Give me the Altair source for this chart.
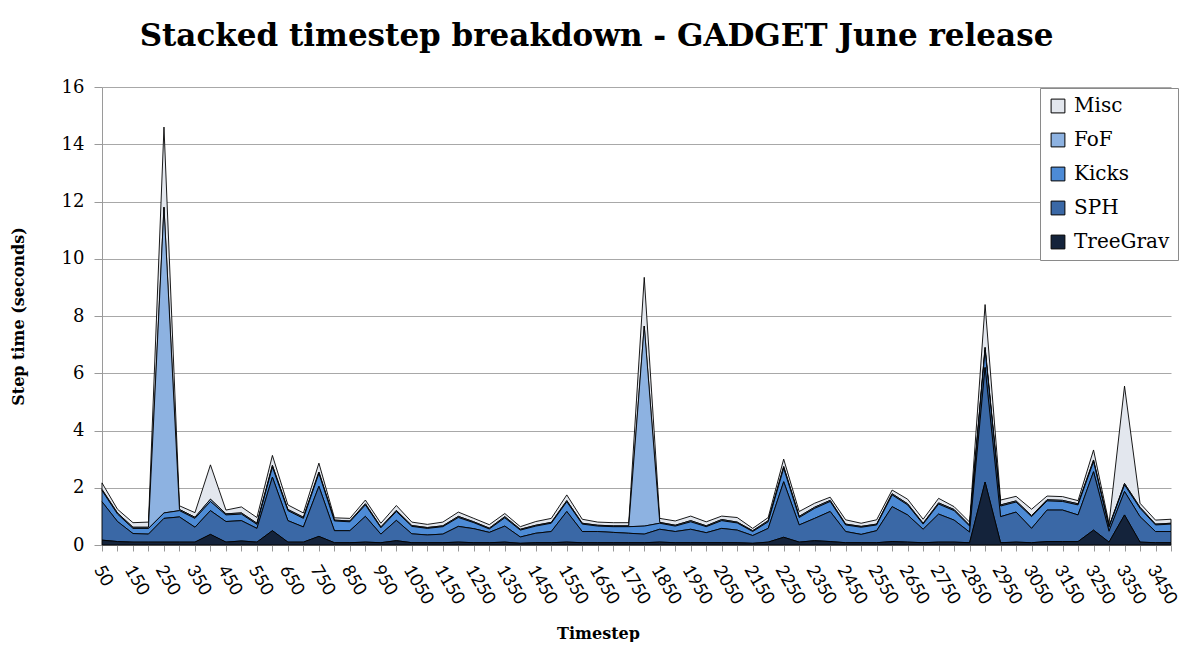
import altair as alt
import pandas as pd

timesteps = [50, 100, 150, 200, 250, 300, 350, 400, 450, 500,
             550, 600, 650, 700, 750, 800, 850, 900, 950, 1000,
             1050, 1100, 1150, 1200, 1250, 1300, 1350, 1400, 1450, 1500,
             1550, 1600, 1650, 1700, 1750, 1800, 1850, 1900, 1950, 2000,
             2050, 2100, 2150, 2200, 2250, 2300, 2350, 2400, 2450, 2500,
             2550, 2600, 2650, 2700, 2750, 2800, 2850, 2900, 2950, 3000,
             3050, 3100, 3150, 3200, 3250, 3300, 3350, 3400, 3450, 3500]

# cumulative tops of each stacked layer
misc_top = [2.17, 1.25, 0.78, 0.80, 14.6, 1.37, 1.13, 2.80, 1.22, 1.33,
            0.96, 3.13, 1.40, 1.12, 2.86, 0.95, 0.93, 1.57, 0.76, 1.38,
            0.80, 0.72, 0.80, 1.15, 0.93, 0.71, 1.10, 0.64, 0.82, 0.93,
            1.75, 0.90, 0.80, 0.78, 0.78, 9.35, 0.93, 0.84, 1.01, 0.81,
            1.01, 0.96, 0.58, 0.96, 3.00, 1.17, 1.46, 1.67, 0.88, 0.76,
            0.88, 1.92, 1.60, 0.90, 1.63, 1.34, 0.80, 8.40, 1.57, 1.70,
            1.25, 1.71, 1.69, 1.55, 3.32, 0.75, 5.55, 1.46, 0.87, 0.90]
fof_top = [1.94, 1.12, 0.62, 0.62, 11.8, 1.24, 0.97, 1.60, 1.09, 1.12,
           0.76, 2.78, 1.24, 0.97, 2.55, 0.87, 0.84, 1.44, 0.63, 1.21,
           0.68, 0.61, 0.67, 1.00, 0.81, 0.59, 0.99, 0.55, 0.69, 0.79,
           1.55, 0.76, 0.69, 0.67, 0.67, 7.65, 0.79, 0.69, 0.85, 0.67,
           0.89, 0.80, 0.50, 0.85, 2.74, 1.00, 1.32, 1.56, 0.73, 0.65,
           0.73, 1.79, 1.44, 0.76, 1.47, 1.24, 0.69, 6.90, 1.40, 1.54,
           1.03, 1.58, 1.56, 1.44, 2.97, 0.65, 2.15, 1.32, 0.73, 0.76]
kicks_top = [1.90, 1.08, 0.58, 0.58, 1.12, 1.20, 0.93, 1.52, 1.05, 1.08,
             0.72, 2.72, 1.20, 0.93, 2.50, 0.84, 0.81, 1.40, 0.60, 1.17,
             0.65, 0.58, 0.64, 0.96, 0.78, 0.56, 0.95, 0.52, 0.66, 0.76,
             1.51, 0.73, 0.66, 0.64, 0.64, 0.66, 0.76, 0.66, 0.81, 0.64,
             0.85, 0.77, 0.47, 0.81, 2.68, 0.96, 1.28, 1.52, 0.70, 0.62,
             0.70, 1.75, 1.40, 0.73, 1.43, 1.20, 0.66, 6.80, 1.36, 1.50,
             0.99, 1.54, 1.52, 1.40, 2.91, 0.62, 2.10, 1.28, 0.70, 0.73]
sph_top = [1.51, 0.82, 0.40, 0.38, 0.93, 0.98, 0.62, 1.20, 0.82, 0.85,
           0.58, 2.37, 0.85, 0.63, 2.05, 0.50, 0.50, 1.00, 0.38, 0.86,
           0.39, 0.35, 0.38, 0.65, 0.57, 0.44, 0.66, 0.28, 0.41, 0.47,
           1.17, 0.47, 0.47, 0.44, 0.41, 0.38, 0.55, 0.47, 0.55, 0.43,
           0.58, 0.52, 0.33, 0.58, 2.21, 0.70, 0.93, 1.17, 0.47, 0.37,
           0.50, 1.34, 1.05, 0.55, 1.08, 0.87, 0.45, 6.20, 0.99, 1.15,
           0.58, 1.22, 1.22, 1.05, 2.56, 0.48, 1.87, 0.99, 0.47, 0.47]
treegrav_top = [0.17, 0.12, 0.10, 0.10, 0.10, 0.10, 0.10, 0.37, 0.10, 0.14,
                0.10, 0.50, 0.10, 0.10, 0.30, 0.08, 0.08, 0.10, 0.08, 0.15,
                0.08, 0.08, 0.08, 0.10, 0.08, 0.08, 0.10, 0.06, 0.08, 0.08,
                0.10, 0.08, 0.08, 0.08, 0.08, 0.08, 0.10, 0.08, 0.08, 0.08,
                0.08, 0.08, 0.06, 0.10, 0.27, 0.10, 0.15, 0.12, 0.08, 0.08,
                0.08, 0.12, 0.10, 0.08, 0.10, 0.10, 0.08, 2.20, 0.08, 0.10,
                0.08, 0.12, 0.12, 0.12, 0.52, 0.10, 1.05, 0.10, 0.08, 0.08]

layers = ["Misc", "FoF", "Kicks", "SPH", "TreeGrav"]
colors = ["#e3e7ee", "#8db2e1", "#4d8bd6", "#3a68a6", "#14233b"]
y_ticks = [0, 2, 4, 6, 8, 10, 12, 14, 16]

bounds = {
    "Misc": (fof_top, misc_top),
    "FoF": (kicks_top, fof_top),
    "Kicks": (sph_top, kicks_top),
    "SPH": (treegrav_top, sph_top),
    "TreeGrav": (None, treegrav_top),
}
rows = []
for name in layers:
    lo, hi = bounds[name]
    for i, t in enumerate(timesteps):
        rows.append({"Timestep": t, "Layer": name,
                     "lo": 0.0 if lo is None else lo[i], "hi": hi[i]})
df = pd.DataFrame(rows)

serif = "DejaVu Serif"

chart = alt.Chart(df).mark_area(
    stroke="black", strokeWidth=0.9, opacity=1, fillOpacity=1
).encode(
    x=alt.X("Timestep:Q",
            scale=alt.Scale(domain=[50, 3500], nice=False, zero=False),
            axis=alt.Axis(values=timesteps, format="d",
                          labelExpr="(datum.value - 50) % 100 == 0 ? datum.label : ''",
                          labelAngle=60, labelAlign="left", labelBaseline="top",
                          labelOverlap=False, labelFlush=False,
                          labelFont="Lato", labelFontSize=18, labelColor="black",
                          labelPadding=11, labelOffset=3,
                          tickSize=6, tickColor="#9a9a9a", domainColor="#9a9a9a",
                          grid=False,
                          title="Timestep", titleFont=serif, titleFontSize=16,
                          titleFontWeight="bold", titleColor="black",
                          titleX=496, titleY=93, titleBaseline="alphabetic")),
    y=alt.Y("hi:Q", scale=alt.Scale(domain=[0, 16], nice=False),
            axis=alt.Axis(values=y_ticks, labelFont=serif, labelFontSize=18,
                          labelColor="black", labelPadding=10,
                          tickSize=8, tickColor="#9a9a9a", domainColor="#9a9a9a",
                          gridColor="#a8a8a8", gridWidth=1,
                          title="Step time (seconds)", titleFont=serif,
                          titleFontSize=16, titleFontWeight="bold",
                          titleColor="black", titleX=-76, titleY=229)),
    y2="lo:Q",
    color=alt.Color("Layer:N", scale=alt.Scale(domain=layers, range=colors),
                    legend=alt.Legend(title=None, orient="none", legendX=938, legendY=1,
                                      symbolType="square", symbolSize=190,
                                      symbolStrokeColor="black", symbolStrokeWidth=1,
                                      labelFont=serif, labelFontSize=20, labelColor="black",
                                      rowPadding=14, padding=8, labelOffset=6,
                                      fillColor="white", strokeColor="#8a8a8a")),
    detail="Layer:N",
).properties(
    width=1069, height=458,
    autosize="none",
    padding={"left": 94, "top": 79, "right": 13, "bottom": 97},
    title=alt.TitleParams("Stacked timestep breakdown - GADGET June release",
                          font=serif, fontSize=31, fontWeight="bold", color="black",
                          anchor="middle", dx=-40, offset=25),
).configure_view(stroke=None)

chart.save("out.html", embed_options={"renderer": "svg", "actions": False})
